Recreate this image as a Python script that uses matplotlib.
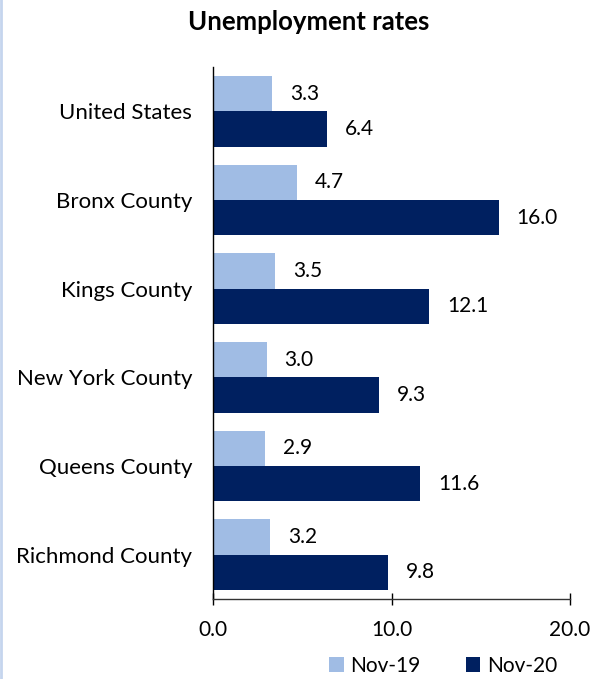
import matplotlib
matplotlib.use("Agg")
import matplotlib.pyplot as plt
import numpy as np
from matplotlib.lines import Line2D

categories = ["United States", "Bronx County", "Kings County", "New York County",
              "Queens County", "Richmond County"]
nov19 = [3.3, 4.7, 3.5, 3.0, 2.9, 3.2]
nov20 = [6.4, 16.0, 12.1, 9.3, 11.6, 9.8]
series_names = ["Nov-19", "Nov-20"]
xticks = [0, 10, 20]

c19 = "#A0BCE4"
c20 = "#002060"

plt.rcParams['font.family'] = ['Lato', 'DejaVu Sans']

fig = plt.figure(figsize=(5.95, 6.79), dpi=100)
ax = fig.add_axes([213/595, 1-599/679, (570-213)/595, (599-67)/679])

n = len(categories)
y = np.arange(n)
h = 0.4
ax.barh(y - h/2, nov19, height=h, color=c19, label=series_names[0])
ax.barh(y + h/2, nov20, height=h, color=c20, label=series_names[1])

for yi, v in zip(y, nov19):
    ax.annotate(f"{v:.1f}", (v, yi - h/2), xytext=(13, 0), textcoords="offset points",
                va="center", ha="left", fontsize=15)
for yi, v in zip(y, nov20):
    ax.annotate(f"{v:.1f}", (v, yi + h/2), xytext=(13, 0), textcoords="offset points",
                va="center", ha="left", fontsize=15)

ax.set_ylim(n - 0.5, -0.5)
ax.set_xlim(0, 20)
ax.set_yticks(y)
ax.set_yticklabels(categories, fontsize=16)
ax.tick_params(axis='y', length=0, pad=15)
ax.set_xticks(xticks)
ax.set_xticklabels([f"{t:.1f}" for t in xticks], fontsize=15)
ax.tick_params(axis='x', direction='inout', length=8, width=1, pad=11)
for s in ["top", "right"]:
    ax.spines[s].set_visible(False)
ax.spines["left"].set_linewidth(1)
ax.spines["bottom"].set_linewidth(1)
ax.spines["bottom"].set_color("#333333")

fig.text(309/595, 1-22/679, "Unemployment rates", ha="center", va="center",
         fontsize=18.5, fontweight="bold")

ax.legend(loc="center", bbox_to_anchor=(443/595, 1-666/679),
          bbox_transform=fig.transFigure, ncol=2, frameon=False, fontsize=15,
          handlelength=0.7, handleheight=0.7, handletextpad=0.3, columnspacing=2.2)

fig.add_artist(Line2D([0.002, 0.002], [0, 1], transform=fig.transFigure,
                      color="#C5D5EE", linewidth=2))

fig.savefig("out.png", dpi=100)
